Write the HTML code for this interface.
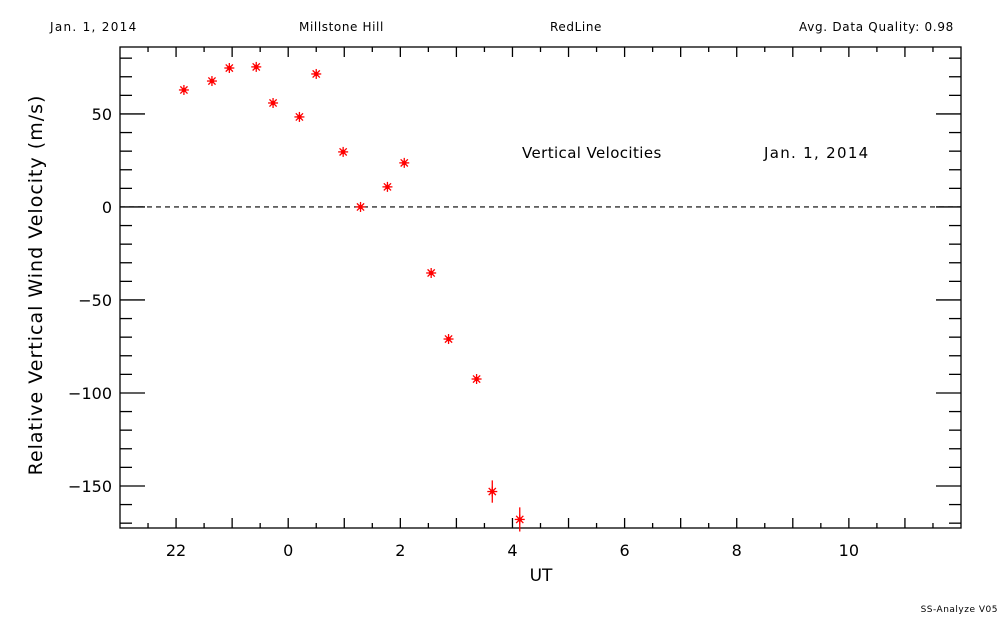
<!DOCTYPE html>
<html><head><meta charset="utf-8"><style>
body{margin:0;background:#fff}
svg{display:block;font-family:"DejaVu Sans","Liberation Sans",sans-serif}
</style></head><body>
<svg id="c" width="1000" height="625">
<text x="50" y="31" font-size="12" letter-spacing="1.3">Jan. 1, 2014</text>
<text x="299" y="31" font-size="12" letter-spacing="0.6">Millstone Hill</text>
<text x="550" y="31" font-size="12" letter-spacing="0.6">RedLine</text>
<text x="954" y="31" font-size="12" letter-spacing="0.7" text-anchor="end">Avg. Data Quality: 0.98</text>
<text x="522" y="158" font-size="15" letter-spacing="0.4">Vertical Velocities</text>
<text x="764" y="158" font-size="15" letter-spacing="1.3">Jan. 1, 2014</text>
<text x="541" y="581" font-size="17" text-anchor="middle">UT</text>
<text transform="translate(42,285) rotate(-90)" font-size="19" letter-spacing="1" text-anchor="middle">Relative Vertical Wind Velocity (m/s)</text>
<text x="998" y="612" font-size="9" letter-spacing="0.5" text-anchor="end">SS-Analyze V05</text>
<g id="axes"></g><g id="marks"></g>
</svg>
<script>
const xs=[-1.86,-1.36,-1.05,-0.57,-0.27,0.2,0.5,0.98,1.29,1.77,2.07,2.55,2.86,3.36,3.64,4.13];
const vs=[62.9,67.7,74.7,75.3,55.9,48.4,71.5,29.6,0,10.8,23.7,-35.5,-71,-92.5,-153,-168];
const errs=[1,1,1,1,1,1,1,1,1,1,1,1,1,1,6,6.5];
const xTickVals=[-2,0,2,4,6,8,10];
const xTickLabels=["22","0","2","4","6","8","10"];
const yTickVals=[50,0,-50,-100,-150];
const yTickLabels=["50","0","\u221250","\u2212100","\u2212150"];
const L=120,R=961,T=47,B=528,X0=-3,X1=12,Y0=-172.6,Y1=86;
const X=v=>L+(v-X0)/(X1-X0)*(R-L), Y=v=>B-(v-Y0)/(Y1-Y0)*(B-T);
const NS="http://www.w3.org/2000/svg";
function mk(p,t,a){const e=document.createElementNS(NS,t);for(const k in a)e.setAttribute(k,a[k]);p.appendChild(e);return e;}
const ax=document.getElementById('axes'),mg=document.getElementById('marks');
const frame=mk(ax,'rect',{x:L,y:T,width:R-L,height:B-T,fill:'none',stroke:'#000','stroke-width':1.3});


for(let h=X0+0.5;h<X1;h+=0.5){const maj=Math.abs(h-Math.round(h))<1e-6;const len=maj?10:5;const x=X(h);
mk(ax,'line',{x1:x,x2:x,y1:B,y2:B-len,stroke:'#000','stroke-width':1.3});
mk(ax,'line',{x1:x,x2:x,y1:T,y2:T+len,stroke:'#000','stroke-width':1.3});}
for(let v=-170;v<=80;v+=10){const maj=v%50===0;const len=maj?25:12;const y=Y(v);
mk(ax,'line',{x1:L,x2:L+len,y1:y,y2:y,stroke:'#000','stroke-width':1.3});
mk(ax,'line',{x1:R,x2:R-len,y1:y,y2:y,stroke:'#000','stroke-width':1.3});}
xTickVals.forEach((v,i)=>{const t=mk(ax,'text',{x:X(v),y:B+28,'font-size':16,'text-anchor':'middle'});t.textContent=xTickLabels[i];

});
yTickVals.forEach((v,i)=>{const t=mk(ax,'text',{x:L-8,y:Y(v)+6,'font-size':16,'text-anchor':'end'});t.textContent=yTickLabels[i];

});
const zl=mk(ax,'line',{x1:L,x2:R,y1:Y(0),y2:Y(0),stroke:'#000','stroke-width':1.2,'stroke-dasharray':'5,4'});


xs.forEach((xv,i)=>{const cx=X(xv),cy=Y(vs[i]);const g=mk(mg,'g',{stroke:'#f00','stroke-width':1.3});


mk(g,'line',{x1:cx,x2:cx,y1:Y(vs[i]+errs[i]),y2:Y(vs[i]-errs[i])});
const r=5;mk(g,'line',{x1:cx-r,x2:cx+r,y1:cy,y2:cy});mk(g,'line',{x1:cx,x2:cx,y1:cy-r,y2:cy+r});
mk(g,'line',{x1:cx-3.6,x2:cx+3.6,y1:cy-3.6,y2:cy+3.6});mk(g,'line',{x1:cx-3.6,x2:cx+3.6,y1:cy+3.6,y2:cy-3.6});
mk(g,'circle',{cx:cx,cy:cy,r:1.6,fill:'#f00'});});
</script>
</body></html>
